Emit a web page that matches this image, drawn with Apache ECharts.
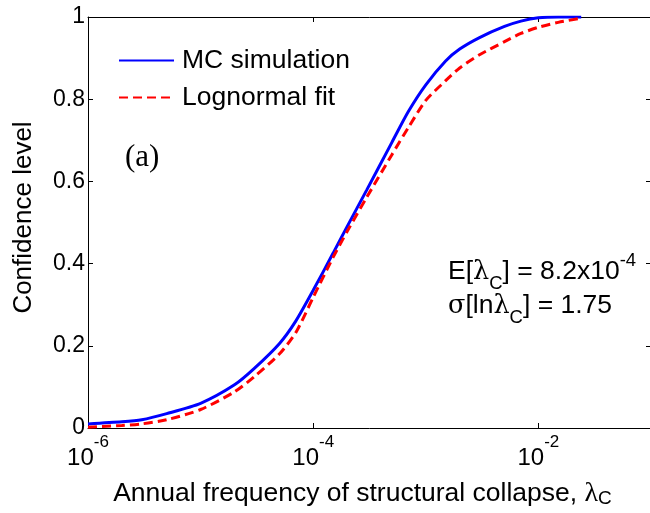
<!DOCTYPE html>
<html>
<head>
<meta charset="utf-8">
<script src="https://cdn.jsdelivr.net/npm/echarts@6/dist/echarts.min.js"></script>
<style>html,body{margin:0;padding:0;background:#fff}#c{width:650px;height:513px}</style>
</head>
<body>
<div id="c"></div>
<script>
// Annual frequency of collapse (x) values where the curves were read
const lambdaPts = [1e-6, 2e-6, 3e-6, 5e-6, 1e-5, 2e-5, 3e-5, 5e-5, 7e-5, 1e-4, 1.5e-4, 2e-4, 3e-4, 5e-4, 7e-4, 1e-3, 1.5e-3, 2e-3, 3e-3, 5e-3, 7e-3, 1e-2, 1.5e-2, 2.4e-2];
// MC simulation confidence level
const mcValues = [0.010, 0.015, 0.020, 0.035, 0.060, 0.105, 0.145, 0.205, 0.260, 0.335, 0.425, 0.490, 0.580, 0.695, 0.770, 0.835, 0.893, 0.922, 0.950, 0.977, 0.990, 0.998, 1.000, 1.000];
// Lognormal fit confidence level
const fitValues = [0.002, 0.006, 0.010, 0.020, 0.045, 0.088, 0.125, 0.180, 0.232, 0.318, 0.415, 0.478, 0.562, 0.665, 0.731, 0.797, 0.845, 0.876, 0.908, 0.940, 0.960, 0.975, 0.987, 0.997];
const seriesNames = ['MC simulation', 'Lognormal fit'];
const yTicks = [0, 0.2, 0.4, 0.6, 0.8, 1];

const chart = echarts.init(document.getElementById('c'), null, {renderer: 'canvas'});
const sans = 'Liberation Sans, Arial, sans-serif';
const serif = 'Liberation Serif, Times New Roman, serif';

function pairs(xs, ys) { return xs.map((x, i) => [x, ys[i]]); }

const option = {
  animation: false,
  backgroundColor: '#fff',
  grid: {left: 88, top: 17, width: 563, height: 411, outerBoundsMode: 'none', containLabel: false},
  legend: {
    orient: 'vertical', left: 118, top: 47, padding: 0,
    itemWidth: 55, itemHeight: 14, itemGap: 10,
    data: seriesNames,
    itemStyle: {opacity: 0},
    textStyle: {fontFamily: sans, fontSize: 26.5, color: '#000', lineHeight: 27, padding: [0, 0, 0, 3]}
  },
  xAxis: [{
    type: 'log', logBase: 100, min: 1e-6, max: 0.1,
    position: 'bottom',
    axisLine: {show: true, onZero: false, lineStyle: {color: '#000', width: 1}},
    axisTick: {show: true, inside: true, length: 5, lineStyle: {color: '#000'}},
    splitLine: {show: false}, minorTick: {show: false},
    axisLabel: {
      margin: 6, showMaxLabel: false,
      formatter: v => '{b|10}{s|' + Math.round(Math.log10(v)) + '}',
      rich: {
        b: {fontFamily: sans, fontSize: 24, color: '#000', lineHeight: 36, verticalAlign: 'bottom'},
        s: {fontFamily: sans, fontSize: 17, color: '#000', lineHeight: 28, verticalAlign: 'top'}
      }
    },
    name: '{n|Annual frequency of structural collapse, }{l|λ}{c|C}',
    nameLocation: 'middle', nameGap: 49,
    nameTextStyle: {
      padding: [0, 14, 0, 0],
      rich: {
        n: {fontFamily: sans, fontSize: 26.5, color: '#000', lineHeight: 28, verticalAlign: 'top'},
        l: {fontFamily: serif, fontSize: 28, color: '#000', lineHeight: 28, verticalAlign: 'top'},
        c: {fontFamily: sans, fontSize: 19, color: '#000', lineHeight: 20, padding: [14, 0, 0, 0], verticalAlign: 'bottom'}
      }
    }
  }, {
    type: 'log', logBase: 100, min: 1e-6, max: 0.1,
    position: 'top',
    axisLine: {show: true, onZero: false, lineStyle: {color: '#000', width: 1}},
    axisTick: {show: true, inside: true, length: 5, lineStyle: {color: '#000'}},
    axisLabel: {show: false}, splitLine: {show: false}
  }],
  yAxis: [{
    type: 'value', min: 0, max: 1, interval: 0.2,
    axisLine: {show: true, onZero: false, lineStyle: {color: '#000', width: 1}},
    axisTick: {show: true, inside: true, length: 5, lineStyle: {color: '#000'}},
    splitLine: {show: false},
    axisLabel: {
      margin: 3, fontFamily: sans, fontSize: 23, color: '#000',
      formatter: v => { const t = yTicks.find(k => Math.abs(k - v) < 1e-9); return String(t !== undefined ? t : v); }
    },
    name: 'Confidence level', nameLocation: 'middle', nameGap: 51,
    nameTextStyle: {fontFamily: sans, fontSize: 26, color: '#000', padding: [0, 0, 0, 10]}
  }, {
    type: 'value', min: 0, max: 1, interval: 0.2, position: 'right',
    axisLine: {show: true, onZero: false, lineStyle: {color: '#000', width: 1}},
    axisTick: {show: true, inside: true, length: 5, lineStyle: {color: '#000'}},
    axisLabel: {show: false}, splitLine: {show: false}
  }],
  series: [{
    name: seriesNames[0], type: 'line', data: pairs(lambdaPts, mcValues),
    showSymbol: false, symbol: 'none', smooth: 0.25,
    lineStyle: {color: '#0000ff', width: 3}, itemStyle: {color: '#0000ff'}, z: 2
  }, {
    name: seriesNames[1], type: 'line', data: pairs(lambdaPts, fitValues),
    showSymbol: false, symbol: 'none', smooth: 0.25,
    lineStyle: {color: '#ff0000', width: 3, type: [9, 5]}, itemStyle: {color: '#ff0000'}, z: 3
  }],
  graphic: [{
    type: 'text', left: 125, top: 142,
    style: {text: '(a)', fontFamily: serif, fontSize: 31, fill: '#000'}
  }, {
    type: 'text', left: 448, top: 251,
    style: {
      text: '{t|E[}{l|λ}{c|C}{t|] = 8.2x10}{s|-4}',
      rich: {
        t: {fontFamily: sans, fontSize: 26.5, fill: '#000', lineHeight: 34, verticalAlign: 'bottom'},
        l: {fontFamily: 'DejaVu Serif, serif', fontSize: 25.5, fill: '#000', lineHeight: 34, verticalAlign: 'bottom'},
        c: {fontFamily: sans, fontSize: 18.5, fill: '#000', lineHeight: 24, verticalAlign: 'bottom', padding: [0,0,-8,0]},
        s: {fontFamily: sans, fontSize: 18.5, fill: '#000', lineHeight: 18, verticalAlign: 'top'}
      }
    }
  }, {
    type: 'text', left: 448, top: 292,
    style: {
      text: '{g|σ}{t|[ln}{l|λ}{c|C}{t|] = 1.75}',
      rich: {
        t: {fontFamily: sans, fontSize: 26.5, fill: '#000', lineHeight: 34, verticalAlign: 'bottom'},
        g: {fontFamily: 'DejaVu Serif, serif', fontSize: 25.5, fill: '#000', lineHeight: 34, verticalAlign: 'bottom'},
        l: {fontFamily: 'DejaVu Serif, serif', fontSize: 25.5, fill: '#000', lineHeight: 34, verticalAlign: 'bottom'},
        c: {fontFamily: sans, fontSize: 18.5, fill: '#000', lineHeight: 24, verticalAlign: 'bottom', padding: [0,0,-8,0]}
      }
    }
  }]
};
chart.setOption(option);
</script>
</body>
</html>
